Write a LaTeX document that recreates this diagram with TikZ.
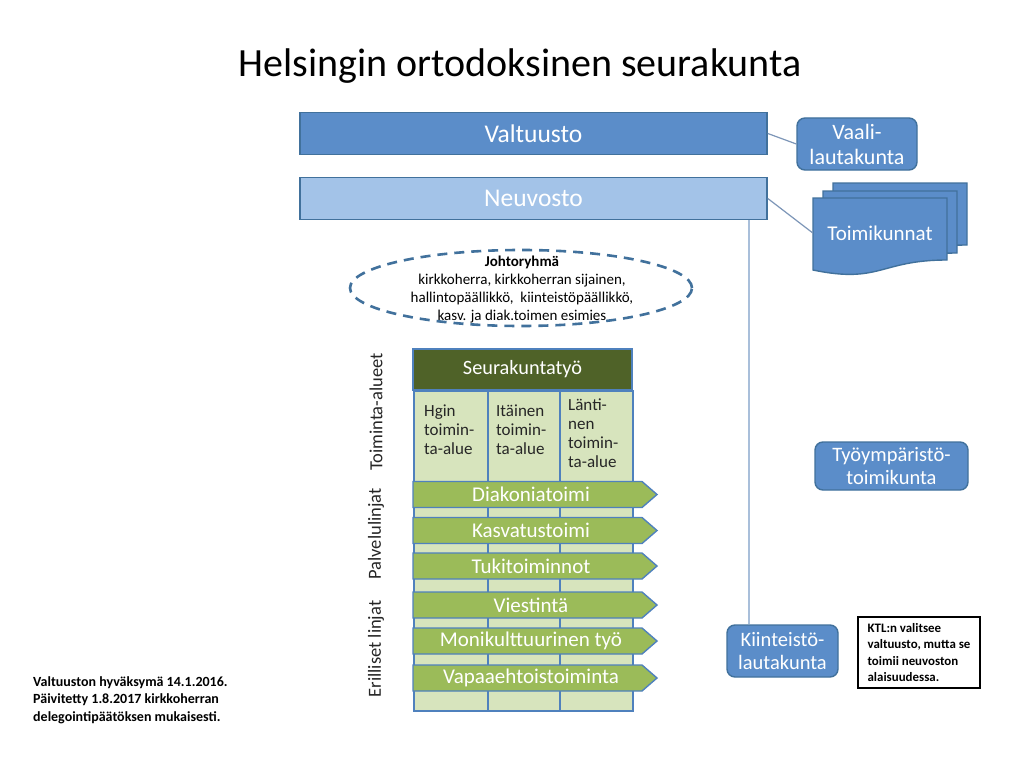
\documentclass[tikz,border=0pt]{standalone}
\usepackage{fontspec}
\setmainfont{Carlito}
\usepackage{tikz}
\usetikzlibrary{shapes.geometric,calc}
\definecolor{kblue}{HTML}{5B8DC9}
\definecolor{kline}{HTML}{41719C}
\definecolor{klight}{HTML}{A3C3E8}
\definecolor{kdark}{HTML}{4F6228}
\definecolor{kpale}{HTML}{D7E4BD}
\definecolor{kgreen}{HTML}{9BBB59}
\definecolor{kgrid}{HTML}{4F81BD}
\definecolor{kconn}{HTML}{7D96B8}
\definecolor{kvert}{HTML}{A9BFDA}
\tikzset{
  bar/.style={rectangle, draw=kline, line width=1.6pt, fill=#1, text=white,
              font=\fontsize{25.5}{30}\selectfont, minimum width=467pt, minimum height=42pt},
  lauta/.style={rectangle, rounded corners=8pt, draw=kline, line width=1.4pt, fill=kblue,
                text=white, align=center, font=\fontsize{20.5}{23.5}\selectfont},
  lanebox/.style={draw=kgrid, line width=1.4pt, fill=kgreen},
  lanetext/.style={text=white, font=\fontsize{21}{24}\selectfont, inner sep=0pt},
  cell/.style={rectangle, draw=kgrid, line width=1.6pt, fill=kpale, minimum width=#1,
               minimum height=320pt, anchor=north west, inner sep=0pt},
  celltext/.style={align=left, font=\fontsize{17}{19}\selectfont, text=black!85,
                   inner sep=0pt, anchor=west},
  side/.style={rotate=90, font=\fontsize{18.5}{22}\selectfont, text=black!85},
  conn/.style={draw=kconn, line width=1.2pt},
  kdoc/.pic={\filldraw[draw=kline, line width=1.4pt, fill=kblue]
      (0,0) -- (134,0) -- (134,62) .. controls (67,62) and (67,86) .. (0,72) -- cycle;},
}
\begin{document}
\begin{tikzpicture}[x=1pt, y=-1pt]
    \fill[white] (0,0) rectangle (1020,765);
    \useasboundingbox (0,0) rectangle (1020,765);
    \node[font=\fontsize{40}{45}\selectfont] (title) at (520,66) {Helsingin ortodoksinen seurakunta};
    % hallinto
    \node[bar=kblue] (valt) at (533.5,133.5) {Valtuusto};
    \node[bar=klight] (neuv) at (533.5,198.5) {Neuvosto};
    \node[lauta, font=\fontsize{22}{25}\selectfont, minimum width=120pt, minimum height=52pt] (vaali) at (857,144) {Vaali-\\lautakunta};
    \pic at (833,183) {kdoc};
    \pic at (823,191) {kdoc};
    \pic at (813,198) {kdoc};
    \node[text=white, font=\fontsize{21}{24}\selectfont, minimum width=134pt] (toim) at (880,233) {Toimikunnat};
    \node[lauta, minimum width=153pt, minimum height=48pt] (tyo) at (891.5,466) {Työympäristö-\\toimikunta};
    \node[lauta, minimum width=111pt, minimum height=52pt] (kiint) at (782.5,651) {Kiinteistö-\\lautakunta};
    \node[draw=black, line width=1.2pt, minimum width=122pt, minimum height=71pt, align=left,
          font=\fontsize{12.9}{16.3}\selectfont\bfseries] (ktl) at (919,652.5)
          {KTL:n valitsee\\valtuusto, mutta se\\toimii neuvoston\\alaisuudessa.};
    \draw[conn] (valt.east) -- (vaali.west);
    \draw[conn] (neuv.east) -- (toim.west);
    \draw[draw=kvert, line width=2pt] (kiint.north west) ++(23,0) coordinate (kt) -- (kt |- neuv.south);
    % johtoryhma
    \node[ellipse, draw=kline, line width=2.6pt, dash pattern=on 10pt off 7pt,
          minimum width=342pt, minimum height=76pt] (johto) at (521,288) {};
    \node[align=center, font=\fontsize{15}{18}\selectfont] (johtotxt) at (522,290)
          {\textbf{Johtoryhmä}\\kirkkoherra, kirkkoherran sijainen,\\hallintopäällikkö,\ \ kiinteistöpäällikkö,\\kasv. ja diak.toimen esimies};
    % seurakuntatyo
    \node[cell=74pt] (c1) at (413,390) {};
    \node[cell=72pt] (c2) at (487,390) {};
    \node[cell=73pt] (c3) at (559,390) {};
    \node[rectangle, draw=kgrid, line width=1.6pt, fill=kdark, text=white, font=\fontsize{20.3}{24}\selectfont,
          minimum width=219pt, minimum height=41pt] (seura) at (522.5,369.5) {Seurakuntatyö};
    \node[celltext] (a1) at (424,430) {Hgin\\toimin-\\ta-alue};
    \node[celltext] (a2) at (496,430) {Itäinen\\toimin-\\ta-alue};
    \node[celltext] (a3) at (568,433) {Länti-\\nen\\toimin-\\ta-alue};
    \foreach \nm/\yy/\txt in {dia/494.5/Diakoniatoimi, kas/530.5/Kasvatustoimi, tuki/566/Tukitoiminnot,
                             vie/605/Viestintä, moni/641/Monikulttuurinen työ, vapa/678/Vapaaehtoistoiminta}{
      \filldraw[lanebox] (413,\yy-13) -- (642,\yy-13) -- (657,\yy) -- (642,\yy+13) -- (413,\yy+13) -- cycle;
      \node[lanetext] (\nm) at (531,\yy) {\txt};
    }
    \node[side] (sa) at (376,412) {Toiminta-alueet};
    \node[side] (sb) at (376,534) {Palvelulinjat};
    \node[side] (sc) at (376,649) {Erilliset linjat};
    % huomautus
    \node[anchor=north west, align=left, inner sep=0pt, font=\fontsize{14}{17.5}\selectfont\bfseries] (note) at (33,676)
          {Valtuuston hyväksymä 14.1.2016.\\Päivitetty 1.8.2017 kirkkoherran\\delegointipäätöksen mukaisesti.};
  \end{tikzpicture}
\end{document}
